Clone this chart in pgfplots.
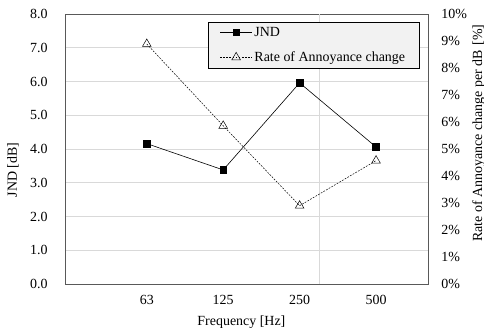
\documentclass[border=0pt]{standalone}
\usepackage{pgfplots}
\pgfplotsset{compat=1.18}
\usepackage{fontspec}
\setmainfont{Liberation Serif}
\definecolor{gridc}{HTML}{D9D9D9}
\definecolor{framec}{HTML}{595959}
\definecolor{legfill}{HTML}{F2F2F2}
\begin{document}
\begin{tikzpicture}[x=1bp,y=1bp]
\pgfplotsset{
  common/.style={
    width=363bp, height=270bp, scale only axis,
    xmin=-1.07, xmax=3.68,
    xtick={0,1,2,3}, xticklabels={63,125,250,500},
    tick style={draw=none},
    axis line style={framec, line width=0.8pt},
    tick label style={font=\fontsize{14}{16}\selectfont},
    /pgf/number format/assume math mode=true,
    clip=false,
  }
}
\begin{axis}[common,
  ymin=0, ymax=8, ytick={0,1,...,8},
  y tick label style={/pgf/number format/fixed, /pgf/number format/fixed zerofill, /pgf/number format/precision=1},
  ymajorgrids, grid style={gridc, line width=0.6pt},
  extra x ticks={2.26}, extra x tick labels={},
  extra x tick style={xmajorgrids, grid style={gridc, line width=0.6pt}},
  xticklabel style={yshift=-8pt},
  yticklabel style={xshift=-14pt},
]
\addplot[black, line width=0.6pt, mark=square*, mark size=3.3pt] coordinates {
  (0,4.16) (1,3.38) (2,5.96) (3,4.06)
};
\node[font=\fontsize{14}{16}\selectfont] at (rel axis cs:0.486,-0.141) {Frequency [Hz]};
\node[rotate=90, font=\fontsize{14}{16}\selectfont] at (rel axis cs:-0.143,0.422) {JND [dB]};
\end{axis}
\begin{axis}[common,
  axis y line*=right, axis x line=none,
  ymin=0, ymax=10, ytick={0,1,...,10},
  yticklabel={\pgfmathprintnumber{\tick}\%},
  yticklabel style={xshift=10pt, anchor=west},
  legend image code/.code={%
    \draw[mark repeat=2, mark phase=2, #1] plot coordinates {(0bp,0bp) (16bp,0bp) (32bp,0bp)};
  },
  legend style={at={(0.393,0.971)}, anchor=north west, fill=legfill, draw=black,
    font=\fontsize{14}{16}\selectfont, row sep=10bp, inner xsep=12bp, inner ysep=3bp,
    nodes={inner sep=2bp}},
  legend cell align=left,
]
\addlegendimage{black, line width=0.6pt, mark=square*, mark size=3.3pt}
\addlegendentry{JND}
\addplot[black, line width=0.5pt, dash pattern=on 1.8pt off 1.3pt, mark=triangle, mark size=5pt, mark options={solid, fill=white}] coordinates {
  (0,8.89) (1,5.86) (2,2.90) (3,4.57)
};
\addlegendentry{Rate of Annoyance change}
\node[rotate=90, font=\fontsize{14}{16}\selectfont] at (rel axis cs:1.140,0.559) {Rate of Annoyance change per dB\,\,[\%]};
\end{axis}
\pgfresetboundingbox
\useasboundingbox (-65,-46) rectangle (419,284);
\end{tikzpicture}
\end{document}
